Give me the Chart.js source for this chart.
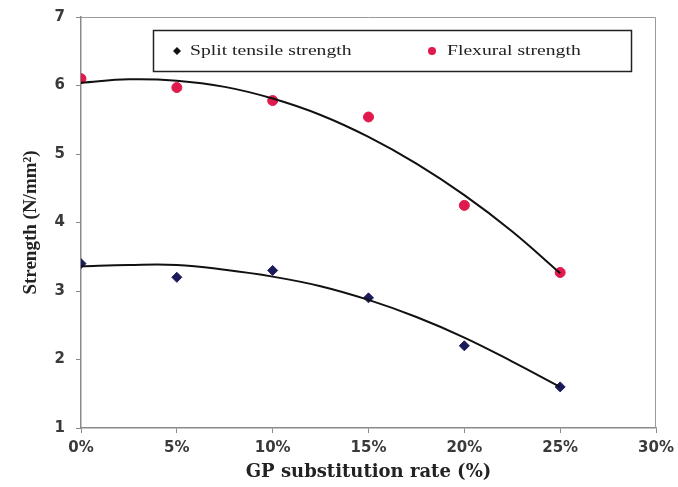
<!DOCTYPE html>
<html>
<head>
<meta charset="utf-8">
<script src="https://cdn.jsdelivr.net/npm/chart.js@4/dist/chart.umd.min.js"></script>
<style>
html,body{margin:0;padding:0;background:#fff;}
#wrap{width:678px;height:487px;position:relative;}
</style>
</head>
<body>
<div id="wrap"><canvas id="c" width="678" height="487"></canvas></div>
<script>
// GP substitution rate (%)
const rates = [0, 5, 10, 15, 20, 25];
const splitTensile = [3.40, 3.20, 3.30, 2.90, 2.20, 1.60];
const flexural = [6.10, 5.97, 5.78, 5.54, 4.25, 3.27];
// trend curves
const trendRates = [0, 2.5, 5, 7.5, 10, 12.5, 15, 17.5, 20, 22.5, 25];
const splitTrend = [3.36, 3.38, 3.38, 3.31, 3.21, 3.07, 2.87, 2.62, 2.32, 1.97, 1.60];
const flexTrend = [6.04, 6.09, 6.07, 5.98, 5.81, 5.57, 5.25, 4.86, 4.40, 3.87, 3.26];
const xTicks = [0, 5, 10, 15, 20, 25, 30];
const yTicks = [1, 2, 3, 4, 5, 6, 7];
const seriesNames = ['Split tensile strength', 'Flexural strength'];

const toPts = (xs, ys) => xs.map((x, i) => ({x: x, y: ys[i]}));

const splitColor = '#1b1b5c';
const flexColor = '#e01a4c';

const frame = {
  id: 'frame',
  beforeDatasetsDraw(chart) {
    const a = chart.chartArea, ctx = chart.ctx;
    ctx.save();
    ctx.strokeStyle = '#9a9a9a';
    ctx.lineWidth = 1;
    ctx.beginPath();
    ctx.moveTo(a.left, a.top + 0.5);
    ctx.lineTo(a.right - 0.5, a.top + 0.5);
    ctx.lineTo(a.right - 0.5, a.bottom);
    ctx.stroke();
    ctx.restore();
  },
  afterDraw(chart) {
    const ctx = chart.ctx;
    ctx.save();
    // legend box
    ctx.strokeStyle = '#222';
    ctx.lineWidth = 1.5;
    ctx.strokeRect(153.5, 30.5, 478, 41);
    ctx.textBaseline = 'middle';
    // split marker (diamond)
    ctx.fillStyle = '#111';
    ctx.beginPath();
    ctx.moveTo(177, 47); ctx.lineTo(181, 51); ctx.lineTo(177, 55); ctx.lineTo(173, 51); ctx.closePath();
    ctx.fill();
    // flex marker
    ctx.fillStyle = flexColor;
    ctx.beginPath(); ctx.arc(432, 51, 4, 0, Math.PI * 2); ctx.fill();
    ctx.font = '15px "Liberation Serif"';
    ctx.fillStyle = '#222';
    const sx = 1.31;
    ctx.save(); ctx.translate(190, 51); ctx.scale(sx, 1); ctx.fillText(seriesNames[0], 0, 0); ctx.restore();
    ctx.save(); ctx.translate(447, 51); ctx.scale(sx, 1); ctx.fillText(seriesNames[1], 0, 0); ctx.restore();
    ctx.restore();
  }
};

new Chart(document.getElementById('c'), {
  type: 'scatter',
  data: {
    datasets: [
      {label: 'splitTrend', data: toPts(trendRates, splitTrend), type: 'line', borderColor: '#111', borderWidth: 2, pointRadius: 0, tension: 0.4, fill: false, order: 0},
      {label: 'flexTrend', data: toPts(trendRates, flexTrend), type: 'line', borderColor: '#111', borderWidth: 2, pointRadius: 0, tension: 0.4, fill: false, order: 0},
      {label: seriesNames[0], data: toPts(rates, splitTensile), pointStyle: 'rectRot', pointRadius: 5, backgroundColor: splitColor, borderColor: splitColor, order: 1},
      {label: seriesNames[1], data: toPts(rates, flexural), pointStyle: 'circle', pointRadius: 5, backgroundColor: flexColor, borderColor: flexColor, order: 1}
    ]
  },
  options: {
    responsive: false,
    animation: false,
    layout: {padding: {left: 0, right: 22, top: 17, bottom: 0}},
    plugins: {legend: {display: false}, tooltip: {enabled: false}},
    scales: {
      x: {
        type: 'linear', min: 0, max: 30,
        afterBuildTicks: s => { s.ticks = xTicks.map(v => ({value: v})); },
        afterFit: s => { s.height = 59; s.paddingLeft = 0; s.paddingRight = 0; },
        grid: {drawOnChartArea: false, drawTicks: true, tickLength: 5, color: '#8a8a8a'},
        border: {color: '#8a8a8a', width: 1.5},
        ticks: {padding: 6, color: '#3a3a3a', font: {family: 'DejaVu Sans', size: 15, weight: 'bold'}, callback: v => v + '%'},
        title: {display: true, text: 'GP substitution rate (%)', color: '#222', padding: {top: 4}, font: {family: 'DejaVu Serif', size: 18, weight: 'bold'}}
      },
      y: {
        min: 1, max: 7,
        afterBuildTicks: s => { s.ticks = yTicks.map(v => ({value: v})); },
        afterFit: s => { s.width = 81; s.paddingTop = 0; s.paddingBottom = 0; },
        grid: {drawOnChartArea: false, drawTicks: true, tickLength: 5, color: '#8a8a8a'},
        border: {color: '#8a8a8a', width: 1.5},
        ticks: {padding: 11, color: '#3a3a3a', font: {family: 'DejaVu Sans', size: 15, weight: 'bold'}},
        title: {display: true, text: 'Strength (N/mm²)', color: '#222', padding: {top: 20, bottom: 0}, font: {family: 'Liberation Serif', size: 19, weight: 'bold'}}
      }
    }
  },
  plugins: [frame]
});
</script>
</body>
</html>
